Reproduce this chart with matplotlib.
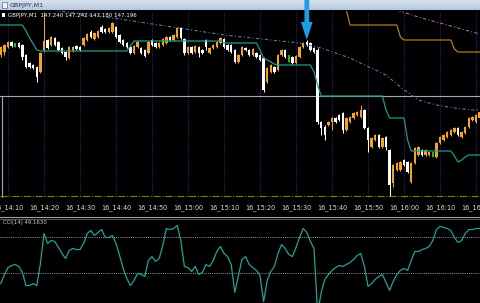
import matplotlib
matplotlib.use("Agg")
import matplotlib.pyplot as plt
import numpy as np
import pandas as pd
from matplotlib.lines import Line2D
from matplotlib.patches import Rectangle

# ---------------- data (GBPJPY, M1) ----------------
opens = [
147.310, 147.316, 147.326, 147.336, 147.330, 147.334, 147.330, 147.310, 147.294, 147.290,
147.286, 147.276, 147.320, 147.340, 147.330, 147.344, 147.336, 147.324, 147.316, 147.304,
147.318, 147.328, 147.326, 147.330, 147.340, 147.356, 147.342, 147.346, 147.366, 147.362,
147.356, 147.356, 147.366, 147.350, 147.340, 147.334, 147.326, 147.314, 147.326, 147.324,
147.320, 147.314, 147.340, 147.334, 147.326, 147.330, 147.334, 147.346, 147.340, 147.346,
147.364, 147.342, 147.314, 147.326, 147.316, 147.326, 147.320, 147.340, 147.314, 147.324,
147.326, 147.334, 147.342, 147.330, 147.330, 147.320, 147.296, 147.310, 147.324, 147.320,
147.310, 147.314, 147.310, 147.304, 147.256, 147.276, 147.286, 147.280, 147.310, 147.320,
147.304, 147.306, 147.294, 147.306, 147.326, 147.336, 147.334, 147.324, 147.320, 147.176,
147.166, 147.170, 147.176, 147.184, 147.190, 147.194, 147.160, 147.176, 147.184, 147.190,
147.186, 147.200, 147.164, 147.126, 147.140, 147.150, 147.126, 147.146, 147.120, 147.054,
147.080, 147.080, 147.100, 147.096, 147.056, 147.094, 147.110, 147.120, 147.110, 147.110,
147.112, 147.106, 147.134, 147.140, 147.146, 147.150, 147.156, 147.164, 147.146, 147.154,
147.166, 147.180, 147.176, 147.184]

highs = [
147.328, 147.332, 147.338, 147.338, 147.334, 147.336, 147.332, 147.312, 147.296, 147.292,
147.288, 147.316, 147.396, 147.342, 147.348, 147.346, 147.338, 147.326, 147.318, 147.328,
147.328, 147.330, 147.328, 147.346, 147.354, 147.360, 147.356, 147.360, 147.370, 147.364,
147.366, 147.376, 147.368, 147.352, 147.342, 147.336, 147.328, 147.330, 147.338, 147.326,
147.322, 147.338, 147.342, 147.336, 147.336, 147.344, 147.348, 147.348, 147.352, 147.366,
147.366, 147.344, 147.328, 147.328, 147.330, 147.328, 147.322, 147.342, 147.326, 147.332,
147.338, 147.346, 147.344, 147.332, 147.332, 147.322, 147.312, 147.328, 147.326, 147.322,
147.324, 147.316, 147.312, 147.306, 147.286, 147.292, 147.288, 147.312, 147.322, 147.322,
147.310, 147.308, 147.310, 147.328, 147.336, 147.340, 147.336, 147.326, 147.324, 147.178,
147.170, 147.178, 147.186, 147.186, 147.192, 147.196, 147.186, 147.188, 147.196, 147.198,
147.210, 147.202, 147.166, 147.146, 147.152, 147.152, 147.146, 147.148, 147.122, 147.092,
147.096, 147.098, 147.102, 147.098, 147.096, 147.126, 147.128, 147.122, 147.122, 147.118,
147.116, 147.136, 147.148, 147.152, 147.158, 147.162, 147.166, 147.166, 147.158, 147.168,
147.186, 147.188, 147.192, 147.198]

lows = [
147.306, 147.310, 147.324, 147.326, 147.326, 147.324, 147.300, 147.284, 147.284, 147.282,
147.256, 147.274, 147.316, 147.322, 147.328, 147.328, 147.318, 147.312, 147.300, 147.302,
147.316, 147.320, 147.318, 147.328, 147.338, 147.344, 147.340, 147.344, 147.354, 147.354,
147.354, 147.354, 147.344, 147.334, 147.328, 147.324, 147.312, 147.312, 147.324, 147.312,
147.306, 147.312, 147.328, 147.324, 147.324, 147.328, 147.332, 147.338, 147.338, 147.344,
147.342, 147.310, 147.312, 147.312, 147.314, 147.306, 147.312, 147.320, 147.312, 147.322,
147.324, 147.332, 147.324, 147.318, 147.314, 147.294, 147.294, 147.308, 147.318, 147.308,
147.308, 147.304, 147.298, 147.236, 147.254, 147.274, 147.274, 147.278, 147.308, 147.304,
147.296, 147.292, 147.292, 147.304, 147.324, 147.328, 147.318, 147.314, 147.172, 147.150,
147.140, 147.168, 147.160, 147.174, 147.178, 147.154, 147.158, 147.174, 147.182, 147.188,
147.184, 147.162, 147.116, 147.124, 147.138, 147.124, 147.124, 147.120, 147.028, 147.046,
147.078, 147.078, 147.088, 147.074, 147.054, 147.092, 147.108, 147.108, 147.108, 147.108,
147.106, 147.104, 147.132, 147.138, 147.144, 147.148, 147.154, 147.148, 147.144, 147.152,
147.164, 147.178, 147.174, 147.182]

closes = [
147.326, 147.330, 147.336, 147.328, 147.330, 147.326, 147.306, 147.286, 147.286, 147.284,
147.266, 147.314, 147.338, 147.324, 147.346, 147.330, 147.320, 147.314, 147.306, 147.326,
147.326, 147.322, 147.320, 147.344, 147.352, 147.346, 147.354, 147.358, 147.356, 147.356,
147.364, 147.374, 147.346, 147.336, 147.330, 147.326, 147.314, 147.328, 147.336, 147.314,
147.308, 147.336, 147.330, 147.326, 147.334, 147.342, 147.346, 147.340, 147.350, 147.364,
147.344, 147.314, 147.326, 147.314, 147.328, 147.314, 147.314, 147.326, 147.324, 147.330,
147.336, 147.344, 147.326, 147.320, 147.316, 147.296, 147.310, 147.326, 147.320, 147.310,
147.322, 147.306, 147.300, 147.240, 147.284, 147.290, 147.276, 147.310, 147.320, 147.306,
147.304, 147.294, 147.308, 147.326, 147.334, 147.330, 147.320, 147.316, 147.176, 147.164,
147.150, 147.176, 147.184, 147.176, 147.180, 147.160, 147.184, 147.186, 147.194, 147.196,
147.200, 147.164, 147.140, 147.144, 147.150, 147.126, 147.144, 147.126, 147.050, 147.090,
147.094, 147.096, 147.090, 147.076, 147.094, 147.124, 147.126, 147.110, 147.120, 147.116,
147.112, 147.134, 147.146, 147.150, 147.156, 147.160, 147.164, 147.150, 147.156, 147.166,
147.184, 147.186, 147.190, 147.196]

# teal stepped channel line (one value per bar)
channel = [
147.370, 147.370, 147.370, 147.370, 147.370, 147.370, 147.370, 147.358, 147.344, 147.332,
147.320, 147.318, 147.318, 147.318, 147.318, 147.318, 147.318, 147.318, 147.318, 147.318,
147.318, 147.318, 147.318, 147.318, 147.318, 147.318, 147.318, 147.318, 147.318, 147.318,
147.318, 147.318, 147.318, 147.318, 147.318, 147.318, 147.328, 147.338, 147.338, 147.338,
147.338, 147.338, 147.338, 147.338, 147.338, 147.338, 147.338, 147.338, 147.338, 147.338,
147.338, 147.338, 147.338, 147.338, 147.338, 147.338, 147.338, 147.338, 147.338, 147.338,
147.338, 147.338, 147.334, 147.334, 147.334, 147.334, 147.334, 147.334, 147.334, 147.334,
147.334, 147.334, 147.320, 147.304, 147.300, 147.296, 147.292, 147.290, 147.290, 147.290,
147.290, 147.290, 147.290, 147.290, 147.290, 147.290, 147.290, 147.276, 147.250, 147.228,
147.228, 147.228, 147.228, 147.228, 147.228, 147.228, 147.228, 147.228, 147.228, 147.228,
147.228, 147.228, 147.228, 147.228, 147.228, 147.228, 147.228, 147.200, 147.184, 147.184,
147.184, 147.184, 147.184, 147.140, 147.118, 147.118, 147.118, 147.118, 147.118, 147.118,
147.118, 147.118, 147.118, 147.118, 147.118, 147.118, 147.108, 147.096, 147.100, 147.106,
147.110, 147.110, 147.110, 147.110]

# gold stepped line, starts at bar 95
gold_start = 95
gold = [147.420, 147.400,
        147.370, 147.370, 147.370, 147.370, 147.370, 147.370, 147.370,
        147.370, 147.370, 147.370, 147.370, 147.370, 147.370, 147.370,
        147.346,
        147.340, 147.340, 147.340, 147.340, 147.340, 147.340, 147.340,
        147.340, 147.340, 147.340, 147.340, 147.340, 147.340, 147.340,
        147.322,
        147.316, 147.316, 147.316, 147.316, 147.316, 147.316, 147.316]

# slow moving averages (read at selected bars)
ma_blue_idx = [0, 14, 31, 44, 53, 62, 83, 89, 97, 107, 111, 116, 121, 126, 131, 133]
ma_blue = [147.416, 147.400, 147.384, 147.370, 147.360, 147.350, 147.334, 147.324,
           147.304, 147.270, 147.246, 147.220, 147.210, 147.204, 147.200, 147.200]
ma_pink_idx = [100, 110, 116, 122, 128, 133]
ma_pink = [147.424, 147.400, 147.386, 147.374, 147.362, 147.352]

hline_level = 147.228
support_level = 147.028

cci = [
-156, -106, -67, -56, -50, -61, -94, -167, -167, -156,
-167, -44, 122, 67, 83, 78, 44, 11, -17, 28,
39, 33, 33, 67, 122, 139, 111, 128, 144, 100,
100, 111, 67, 0, -72, -128, -167, -139, -100, -106,
-117, -28, -6, -33, -17, 56, 150, 144, 150, 167,
83, -61, -67, -89, -61, -106, -94, -50, -61, -28,
22, 50, 11, -6, -50, -206, -111, -22, -6, -50,
-67, -83, -111, -256, -139, -89, -61, 11, 61, 39,
6, -6, 44, 100, 150, 128, 78, 39, -320, -206,
-133, -106, -83, -67, -56, -61, -50, -39, -22, 0,
11, -61, -172, -156, -133, -117, -106, -150, -194, -144,
-106, -83, -72, -83, -28, 22, 22, 33, 39, 50,
83, 144, 161, 156, 150, 139, 100, 72, 83, 122,
144, 144, 150, 150]
cci_levels = [100, -100]

symbol = "GBPJPY,M1"
header_values = "147.240 147.242 147.180 147.196"
cci_label = "CCI(14) 49.1630"
arrow_bar = 85
start_time = "2023-01-16 14:08"

# ---------------- drawing ----------------
W, H = 480, 303
ORANGE = "#f5a51c"
WHITE = "#ffffff"
GREEN = "#19c219"
TEAL = "#1a9c8c"
PURPLE = "#3a1868"

opens, highs, lows, closes = map(np.array, (opens, highs, lows, closes))
N = len(opens)
x = np.arange(N)
times = pd.date_range(start_time, periods=N, freq="min")

fig = plt.figure(figsize=(W / 100, H / 100), dpi=100, facecolor="black")

def frac(top_px, bot_px):
    return 1 - bot_px / H, (bot_px - top_px) / H

# title bar
b, h = frac(0, 10)
tax = fig.add_axes([0, b, 1, h], zorder=1)
grad = np.linspace(0, 1, 20)[:, None]
from matplotlib.colors import LinearSegmentedColormap
cm = LinearSegmentedColormap.from_list("tb", ["#d6e1ee", "#b7c8dc"])
tax.imshow(grad, aspect="auto", cmap=cm, extent=[0, 1, 0, 1])
tax.set_xlim(0, 1); tax.set_ylim(0, 1)
tax.axis("off")
tax.add_patch(Rectangle((2 / W, 0.2), 5 / W, 0.6, facecolor="#eef3f9",
                        edgecolor="#60708a", lw=0.5))
tax.text(10 / W, 0.5, symbol, fontsize=4.6, color="#22304a", va="center", ha="left")
fig.add_artist(Line2D([0, 1], [1 - 10.5 / H] * 2, transform=fig.transFigure,
                      color="#505050", lw=0.8))

# main chart
b, h = frac(11, 198)
ax = fig.add_axes([0, b, 1, h], zorder=5)
ax.set_facecolor("black")
ax.patch.set_alpha(1)
ax.set_xlim(-0.222, 133.111)
ax.set_ylim(147.024, 147.398)
for s in ax.spines.values():
    s.set_visible(False)
ax.set_yticks([])

tick_idx = [i for i, t in enumerate(times) if t.minute % 10 == 0]
ax.set_xticks(tick_idx)
ax.set_xticklabels([f"{times[i].day}_{times[i]:%H:%M}" for i in tick_idx],
                   fontsize=4.7, color="#dcdcdc")
ax.tick_params(axis="x", length=0, pad=4.2)
ax.grid(axis="x", color=PURPLE, linestyle=(0, (1, 1)), lw=0.8)

ax.axhline(hline_level, color="#a8a8b0", lw=0.8, zorder=2)
ax.vlines(0.2, ax.get_ylim()[0], hline_level, color="#a8a8b0", lw=0.8, zorder=2)
ax.axhline(support_level + 0.0005, color="#7c8400", lw=0.8, linestyle="-.", zorder=2)

up = closes > opens + 1e-9
down = closes < opens - 1e-9
doji = ~(up | down)
cols = np.where(up, ORANGE, np.where(down, WHITE, GREEN))
ax.vlines(x, lows, highs, colors=cols, lw=0.75, zorder=3)
ax.bar(x[~doji], np.abs(closes - opens)[~doji], bottom=np.minimum(opens, closes)[~doji],
       width=0.62, color=cols[~doji], linewidth=0, zorder=3)
ax.hlines(closes[doji], x[doji] - 0.35, x[doji] + 0.35, colors=GREEN, lw=1.2, zorder=3)
ax.vlines(x[doji], lows[doji], highs[doji], colors=GREEN, lw=1.4, zorder=3)

ax.plot(x, channel, color=TEAL, lw=0.9, zorder=4)
ax.plot(np.arange(gold_start, gold_start + len(gold)), gold, color="#b07f10", lw=0.9, zorder=4)
ax.plot(ma_blue_idx, ma_blue, color="#4a7fa6", lw=0.8, linestyle=(0, (3, 2, 1, 2)), zorder=4)
ax.plot(ma_pink_idx, ma_pink, color="#b065b0", lw=0.8, linestyle=(0, (3, 2, 1, 2)), zorder=4)

ax.annotate("", xy=(arrow_bar, highs[arrow_bar]), xytext=(0, 29), textcoords="offset points",
            arrowprops=dict(width=3.4, headwidth=8.5, headlength=13, color="#1c9de6",
                            shrink=0, lw=0), annotation_clip=False, zorder=10)

fig.add_artist(Rectangle((2 / W, 1 - 16.5 / H), 3 / W, 3 / H, transform=fig.transFigure,
                         facecolor="white", edgecolor="none", zorder=20))
fig.text(8 / W, 1 - 15 / H, f"{symbol}  {header_values}", fontsize=4.0, color="white",
         va="center", ha="left", zorder=20)

# separator
fig.add_artist(Line2D([0, 1], [1 - 217 / H] * 2, transform=fig.transFigure,
                      color="#a0a0a0", lw=0.8))
fig.add_artist(Line2D([0, 1], [1 - 218.5 / H] * 2, transform=fig.transFigure,
                      color="#555555", lw=0.8))

# CCI sub-window
b, h = frac(219.5, 303)
cx = fig.add_axes([0, b, 1, h], zorder=5)
cx.set_facecolor("black")
cx.set_xlim(-0.222, 133.111)
cx.set_ylim(-264, 200)
for s in cx.spines.values():
    s.set_visible(False)
cx.set_xticks([]); cx.set_yticks([])
for lv in cci_levels:
    cx.axhline(lv, color="#9a9a9a", lw=0.7, linestyle=(0, (1, 1.2)))
cx.plot(x, cci, color="#1fa396", lw=0.9)
cx.text(3 / W, 1 - 3 / (H - 219.5), cci_label, transform=cx.transAxes, fontsize=3.9,
        color="#d0d0d0", va="center", ha="left")

fig.savefig("out.png", dpi=100, facecolor="black")
